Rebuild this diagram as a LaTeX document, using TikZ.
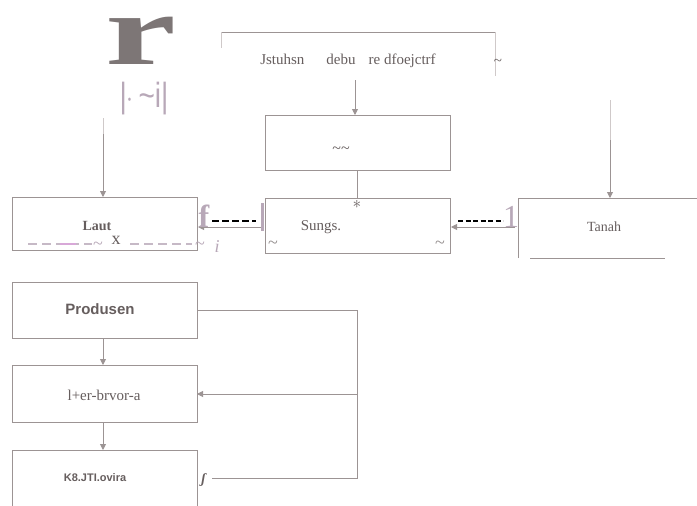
\documentclass[tikz,border=0pt]{standalone}
\usepackage{fontspec}
\setmainfont{Liberation Serif}
\newfontfamily\sansfont{Liberation Sans}
\usetikzlibrary{arrows.meta}
\definecolor{inkgrey}{HTML}{665E5E}
\definecolor{edgegrey}{HTML}{9C9494}
\definecolor{faintgrey}{HTML}{CFC9C9}
\definecolor{mauve}{HTML}{B8A8B8}
\definecolor{pinkdash}{HTML}{D8A8D8}
\tikzset{
  boxline/.style={draw=edgegrey, line width=0.6pt},
  faintline/.style={draw=faintgrey, line width=0.5pt},
  flow/.style={draw=edgegrey, line width=0.9pt, -{Triangle[width=6pt,length=6pt]}},
  label/.style={text=inkgrey, font=\fontsize{15}{17}\selectfont, inner sep=0pt},
  sanslabel/.style={text=inkgrey, font=\sansfont\bfseries\fontsize{15}{17}\selectfont, inner sep=0pt},
  blackdash/.style={draw=black, line width=2pt, dash pattern=on 7pt off 3pt},
  squiggle/.style={text=inkgrey!70, font=\fontsize{18}{18}\selectfont, inner sep=0pt},
}
\begin{document}
\begin{tikzpicture}[x=1pt,y=-1pt]
\useasboundingbox (0,0) rectangle (697,506);
\fill[white] (0,0) rectangle (697,506);

% source box at the top
\draw[boxline] (221,32) -- (495,32);
\draw[faintline] (221,32) -- (221,48);
\draw[faintline] (495,32) -- (495,76);
\node[label] (src) at (348,61) {Jstuhsn\hspace{22pt}debu\hspace{13pt}re dfoejctrf};
\node[label] (srctilde) at (498,62) {\textasciitilde};
\coordinate (srcS) at (355,80);

% emblem in the upper left
\node[text=inkgrey!85, font=\bfseries\fontsize{100}{100}\selectfont, inner sep=0pt, xscale=1.6, anchor=base] (emb) at (141,64) {r};
\node[text=mauve, font=\sansfont\fontsize{28}{28}\selectfont, inner sep=0pt, yscale=1.25, anchor=base] (embsub) at (144,107) {|$\cdot$\,\textasciitilde i|};

% second box
\draw[boxline] (265,115) rectangle (450,170);
\node[text=inkgrey, font=\fontsize{16}{16}\selectfont, inner sep=0pt] (b2) at (341,150) {\textasciitilde\textasciitilde};
\coordinate (b2N) at (355,115);
\coordinate (b2S) at (357,170);

% middle row: Laut, Sungai, Tanah
\draw[boxline] (265,198) rectangle (450,253);
\node[label] (sungs) at (321,227) {Sungs.};
\node[squiggle] at (273,245) {\textasciitilde};
\node[squiggle] at (440,245) {\textasciitilde};
\coordinate (sungN) at (357,198);
\coordinate (sungW) at (263,227);
\coordinate (sungE) at (451,227);

\draw[boxline] (12,197) rectangle (197,250);
\node[text=inkgrey, font=\bfseries\fontsize{14}{16}\selectfont, inner sep=0pt] (laut) at (97,226) {Laut};
\coordinate (lautN) at (103,197);
\coordinate (lautE) at (198,227);

\draw[boxline] (518,258) -- (518,198) -- (697,198);
\draw[boxline] (530,258) -- (665,258);
\node[label, font=\fontsize{14}{16}\selectfont] (tanah) at (604,227) {Tanah};
\coordinate (tanahN) at (610,198);
\coordinate (tanahW) at (515,227);

% lines from the top down to the middle row
\draw[faintline] (103,118) -- (103,134);
\draw[flow] (103,134) -- (lautN);
\draw[faintline] (610,100) -- (610,140);
\draw[flow] (610,140) -- (tanahN);
\draw[flow] (srcS) -- (b2N);
\draw[draw=edgegrey, line width=0.9pt] (b2S) -- (sungN);
\node[text=inkgrey, font=\fontsize{18}{18}\selectfont, inner sep=0pt] at (357,204) {$\ast$};

% arrows between the middle boxes
\draw[flow] (sungW) -- (lautE);
\draw[flow] (tanahW) -- (sungE);
\draw[blackdash] (212,221) -- (256,221);
\draw[blackdash, dash pattern=on 5pt off 2.5pt] (458,221) -- (503,221);
\draw[draw=mauve, line width=3pt] (262,203) -- (262,231);
\node[text=mauve, font=\bfseries\fontsize{32}{32}\selectfont, inner sep=0pt] at (204,216) {f};
\node[text=mauve, font=\itshape\fontsize{18}{18}\selectfont, inner sep=0pt] at (217,247) {i};
\node[text=mauve, font=\fontsize{32}{32}\selectfont, inner sep=0pt] at (511,217) {1};

% dashed base under Laut
\draw[draw=mauve!80, line width=1.8pt, dash pattern=on 9pt off 5pt] (28,244) -- (92,244);
\draw[draw=pinkdash, line width=1.8pt] (60,244) -- (76,244);
\draw[draw=mauve!80, line width=1.8pt, dash pattern=on 9pt off 5pt] (130,244) -- (192,244);
\node[text=mauve, font=\fontsize{18}{18}\selectfont, inner sep=0pt] at (98,246) {\textasciitilde};
\node[text=mauve, font=\fontsize{18}{18}\selectfont, inner sep=0pt] at (200,246) {\textasciitilde};
\node[text=inkgrey, font=\fontsize{18}{18}\selectfont, inner sep=0pt] at (116,240) {x};

% food chain column
\draw[boxline] (12,282) rectangle (197,338);
\node[sanslabel] (prod) at (100,309) {Produsen};
\draw[boxline] (12,365) rectangle (197,422);
\node[label] (herb) at (104,395) {l+er-brvor-a};
\draw[boxline] (12,450) -- (197,450) -- (197,506);
\draw[boxline] (12,450) -- (12,506);
\node[sanslabel, font=\sansfont\bfseries\fontsize{11}{13}\selectfont] (karn) at (95,478) {K8.JTI.ovira};

\coordinate (prodS) at (103,338);
\coordinate (herbN) at (103,365);
\coordinate (herbS) at (103,422);
\coordinate (karnN) at (103,450);
\coordinate (prodE) at (197,310);
\coordinate (herbE) at (197,394);
\coordinate (karnE) at (212,478);

\draw[flow] (prodS) -- (herbN);
\draw[flow] (herbS) -- (karnN);
\draw[draw=edgegrey, line width=0.8pt] (prodE) -- (357,310) -- (357,478) -- (karnE);
\draw[flow] (357,394) -- (herbE);
\node[text=inkgrey, font=\bfseries\fontsize{14}{14}\selectfont, inner sep=0pt] at (204,480) {\textit{ʃ}};
\end{tikzpicture}
\end{document}
